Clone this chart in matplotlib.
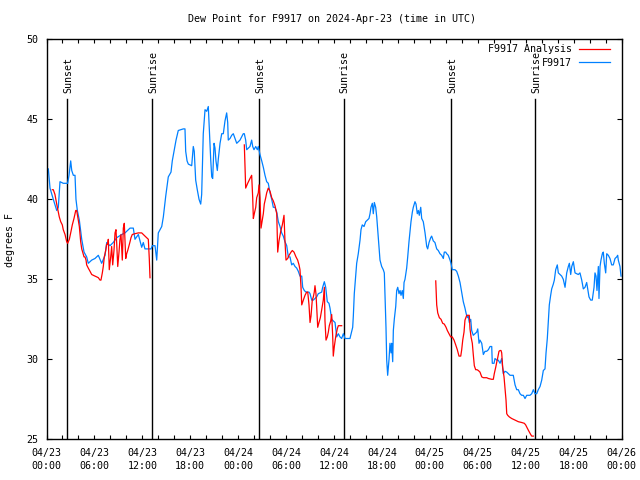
import matplotlib
matplotlib.use("Agg")
import matplotlib.pyplot as plt
from matplotlib.ticker import MultipleLocator, FixedLocator

plt.rcParams['font.family'] = ['DejaVu Sans Mono']

# hours since 2024-04-23 00:00 UTC
blue_h = [0.23, 0.44, 0.85, 1.28, 1.48, 1.69, 2.10, 2.65, 2.82, 3.03, 3.16, 3.36, 3.57, 3.69, 3.86,
          4.11, 4.41, 4.70, 5.03, 5.23, 5.66, 6.07, 6.49, 6.91, 7.33, 7.54, 7.95, 8.36, 8.79, 9.42,
          9.83, 10.46, 10.87, 11.08, 11.50, 11.92, 12.12, 12.33, 13.09, 13.25, 13.59, 13.80, 14.00,
          14.43, 14.63, 14.93, 15.25, 15.59, 15.75, 16.00, 16.22, 16.50, 17.13, 17.34, 17.43, 17.60,
          17.76, 18.18, 18.38, 18.50, 18.68, 18.88, 19.10, 19.31, 19.43, 19.63, 19.85, 20.06, 20.26,
          20.38, 20.56, 20.69, 20.81, 20.98, 21.10, 21.22, 21.39, 21.51, 21.73, 21.94, 22.14, 22.35,
          22.56, 22.69, 22.76, 22.98, 23.19, 23.39, 23.60, 23.82, 24.02, 24.23, 24.44, 24.64, 24.77,
          24.94, 25.07, 25.27, 25.48, 25.69, 25.82, 25.98, 26.20, 26.40, 26.52, 26.73, 26.95, 27.15,
          27.36, 27.57, 27.77, 27.99, 28.20, 28.40, 28.61, 28.83, 29.03, 29.24, 29.45, 29.65, 29.86,
          30.08, 30.28, 30.49, 30.70, 30.90, 31.12, 31.33, 31.53, 31.74, 31.96, 32.08, 32.28, 32.49,
          32.71, 32.87, 33.00, 33.21, 33.41, 33.62, 33.83, 34.03, 34.46, 34.58, 34.79, 34.96, 35.16,
          35.37, 35.50, 35.71, 35.91, 36.13, 36.34, 36.54, 36.75, 36.96, 37.17, 37.38, 38.00, 38.34,
          38.42, 38.54, 38.72, 38.84, 39.04, 39.26, 39.38, 39.54, 39.76, 39.97, 40.17, 40.38, 40.51,
          40.63, 40.80, 40.92, 41.05, 41.22, 41.35, 41.55, 41.76, 41.97, 42.17, 42.30, 42.51, 42.60,
          42.72, 42.89, 43.01, 43.14, 43.22, 43.35, 43.43, 43.55, 43.73, 43.85, 43.98, 44.14, 44.27,
          44.39, 44.55, 44.68, 44.77, 44.89, 45.10, 45.23, 45.39, 45.52, 45.64, 45.81, 45.93, 46.14,
          46.27, 46.43, 46.56, 46.68, 46.86, 46.98, 47.18, 47.40, 47.61, 47.73, 47.90, 48.11, 48.23,
          48.43, 48.64, 48.86, 49.06, 49.27, 49.48, 49.69, 49.81, 49.99, 50.11, 50.31, 50.53, 50.65,
          50.81, 51.15, 51.36, 51.57, 51.78, 51.99, 52.19, 52.40, 52.53, 52.69, 52.82, 52.94, 53.12,
          53.24, 53.44, 53.66, 53.87, 54.00, 54.16, 54.28, 54.50, 54.70, 54.91, 55.12, 55.33, 55.54,
          55.75, 55.82, 56.04, 56.16, 56.37, 56.57, 56.79, 57.00, 57.20, 57.41, 57.63, 57.83, 58.04,
          58.45, 58.67, 58.88, 59.08, 59.29, 59.50, 59.71, 59.92, 60.13, 60.33, 60.54, 60.76, 60.96,
          61.17, 61.38, 61.58, 61.80, 62.01, 62.21, 62.42, 62.55, 62.71, 62.84, 62.96, 63.13, 63.26,
          63.46, 63.59, 63.76, 63.96, 64.09, 64.30, 64.51, 64.71, 64.93, 65.14, 65.34, 65.47, 65.64,
          65.77, 65.97, 66.18, 66.59, 66.80, 67.02, 67.22, 67.43, 67.64, 67.77, 67.93, 68.14, 68.34,
          68.56, 68.68, 68.81, 68.93, 69.10, 69.18, 69.31, 69.43, 69.60, 69.72, 69.85, 70.02, 70.15,
          70.35, 70.56, 70.77, 70.97, 71.19, 71.40, 71.52, 71.60, 71.81, 71.94]
blue_v = [41.9, 40.7, 40.0, 39.3, 39.5, 41.1, 41.0, 41.0, 41.5, 42.4, 41.8, 41.5, 41.5, 40.0, 39.3,
          38.7, 37.5, 36.7, 36.4, 36.0, 36.2, 36.3, 36.5, 36.0, 36.5, 37.3, 37.1, 37.3, 37.6, 37.8,
          37.9, 38.2, 38.2, 37.5, 37.8, 37.0, 37.3, 36.9, 36.9, 37.1, 37.1, 36.2, 37.9,
          38.3, 38.9, 40.2, 41.4, 41.7, 42.4, 43.1, 43.7, 44.3, 44.4, 44.4, 43.0, 42.4,
          42.2, 42.1, 43.3, 43.0, 41.2, 40.6, 40.0, 39.7, 40.3, 44.1, 45.6, 45.5, 45.8,
          44.5, 42.5, 41.4, 41.3, 43.5, 43.2, 42.4, 41.8, 42.5, 43.5, 44.1, 44.1, 44.9,
          45.4, 44.8, 43.7, 43.8, 44.0, 44.1, 43.8, 43.5, 43.6, 43.7, 43.9, 44.1, 44.1,
          43.7, 43.1, 43.2, 43.3, 43.7, 43.3, 43.1, 43.3, 43.1, 43.3, 42.8, 42.4, 42.0,
          41.5, 41.1, 41.0, 40.4, 40.0, 39.5, 39.5, 39.2, 38.6, 38.3, 37.9, 37.7, 37.35,
          37.1, 36.4, 36.4, 35.9, 36.0, 35.8, 35.7, 35.5, 35.2, 35.2, 34.5, 34.3, 34.2,
          34.2, 34.2, 34.1, 33.7, 33.7, 33.8, 33.9, 34.1, 34.2, 34.5, 34.85, 34.5, 33.6,
          33.5, 33.2, 32.5, 32.4, 32.3, 31.4, 31.6, 31.4, 31.3, 31.6, 31.3, 31.3, 32.0,
          32.7, 34.1, 35.2, 36.0, 36.6, 37.45, 38.1, 38.4, 38.3, 38.6, 38.7, 38.8, 39.1,
          39.5, 39.75, 39.1, 39.8, 39.5, 38.9, 37.6, 36.2, 35.8, 35.6, 35.4, 32.0, 29.95,
          29.0, 30.0, 31.0, 30.4, 31.0, 29.85, 31.8, 32.5, 33.3, 34.3, 34.5, 34.1, 34.3,
          34.0, 34.3, 33.8, 34.8, 35.0, 35.7, 36.4, 37.35, 38.0, 38.6, 39.2, 39.5, 39.85,
          39.7, 39.1, 39.3, 39.0, 39.5, 38.8, 38.6, 37.9, 37.05, 36.9, 37.3, 37.6, 37.7,
          37.4, 37.3, 36.9, 36.8, 36.6, 36.5, 36.3, 36.7, 36.7, 36.6, 36.5, 36.2, 36.0,
          35.6, 35.6, 35.5, 35.2, 34.8, 34.2, 33.6, 33.2, 32.9, 32.6, 32.7, 32.3, 32.5,
          31.8, 31.5, 31.6, 31.7, 31.9, 31.0, 31.2, 31.0, 30.3, 30.5, 30.5, 30.6, 30.8,
          30.8, 29.75, 29.75, 30.05, 29.95, 29.95, 29.75, 30.05, 29.1, 29.25, 29.2, 29.1, 29.0,
          29.0, 28.4, 28.1, 28.1, 27.85, 27.75, 27.75, 27.55, 27.75, 27.75, 27.75, 27.85, 28.1,
          27.85, 27.85, 28.1, 28.3, 28.7, 29.3, 29.4, 30.4, 31.3, 32.45, 33.4, 34.0, 34.4,
          34.7, 34.95, 35.6, 35.9, 35.4, 35.3, 35.2, 35.0, 34.5, 35.4, 35.8, 36.0, 35.3,
          35.8, 36.1, 35.4, 35.3, 35.4, 34.95, 34.4, 34.5, 34.8, 34.4, 33.9, 33.7, 33.7,
          34.5, 35.4, 35.2, 34.3, 35.8, 33.8, 35.8, 36.2, 36.6, 36.7, 36.0, 35.4, 36.6,
          36.5, 36.3, 35.9, 35.9, 36.3, 36.4, 36.5, 36.2, 35.8, 35.2]

red1_h = [0.73, 0.85, 1.06, 1.28, 1.48, 1.60, 1.78, 1.98, 2.10, 2.32, 2.53, 2.65, 2.86, 3.07, 3.23,
          3.44, 3.66, 3.78, 3.98, 4.11, 4.28, 4.41, 4.53, 4.70, 4.82, 4.95, 5.03, 5.23, 5.45, 5.66,
          5.86, 6.07, 6.29, 6.49, 6.70, 6.82, 6.99, 7.11, 7.24, 7.41, 7.54, 7.66, 7.74, 7.86, 8.04,
          8.16, 8.29, 8.45, 8.58, 8.70, 8.79, 8.92, 9.08, 9.20, 9.33, 9.49, 9.62, 9.74, 9.92, 10.04,
          10.17, 10.33, 10.46, 10.58, 10.74, 11.08, 11.50, 11.92, 12.33, 12.75, 12.87, 12.96]
red1_v = [40.6, 40.6, 40.3, 39.7, 39.2, 38.9, 38.6, 38.4, 38.1, 37.8, 37.35, 37.25, 37.5, 38.0, 38.4,
          38.8, 39.3, 39.3, 38.7, 38.3, 37.35, 36.9, 36.7, 36.4, 36.4, 36.2, 35.9, 35.7, 35.5, 35.3,
          35.25, 35.2, 35.15, 35.1, 34.95, 34.95, 35.4, 35.8, 36.4, 36.8, 37.2, 37.2, 37.5, 35.6, 36.4,
          37.05, 35.9, 36.8, 37.9, 38.1, 37.25, 35.8, 36.7, 37.5, 37.8, 36.2, 38.2, 38.5, 36.3, 36.6,
          36.8, 37.1, 37.35, 37.6, 37.8, 37.85, 37.9, 37.9, 37.7, 37.5, 36.3, 35.1]

red2_h = [24.77, 24.86, 24.94, 25.19, 25.48, 25.69, 25.82, 25.90, 26.02, 26.20, 26.32, 26.52, 26.61,
          26.73, 26.86, 27.02, 27.15, 27.27, 27.45, 27.57, 27.77, 27.99, 28.20, 28.40, 28.61, 28.83,
          28.95, 29.11, 29.33, 29.53, 29.74, 29.86, 29.99, 30.20, 30.37, 30.62, 30.78, 30.99, 31.24,
          31.45, 31.62, 31.74, 31.87, 31.96, 32.16, 32.37, 32.58, 32.71, 32.87, 33.00, 33.12, 33.28,
          33.41, 33.53, 33.62, 33.74, 33.83, 33.96, 34.12, 34.29, 34.46, 34.66, 34.79, 34.87, 35.00,
          35.16, 35.29, 35.41, 35.59, 35.71, 35.84, 35.91, 36.04, 36.21, 36.41, 36.54, 36.75, 36.96]
red2_v = [43.4, 42.0, 40.7, 41.0, 41.3, 41.5, 40.1, 38.8, 39.1, 39.5, 40.1, 40.4, 40.9,
          40.1, 38.2, 38.7, 39.1, 39.7, 40.1, 40.4, 40.7, 40.5, 40.1, 39.9, 39.6, 39.1,
          36.7, 37.4, 38.0, 38.4, 39.0, 37.4, 36.2, 36.3, 36.5, 36.7, 36.8, 36.7, 36.4,
          36.2, 35.9, 35.6, 34.5, 33.4, 33.7, 34.0, 34.2, 34.2, 33.4, 32.3, 32.7, 33.7,
          33.9, 34.2, 34.6, 34.1, 33.3, 32.0, 32.3, 32.6, 33.1, 33.7, 34.5, 32.4, 31.2,
          31.4, 31.7, 32.1, 32.4, 32.8, 31.4, 30.2, 30.8, 31.4, 31.9, 32.1, 32.1, 32.1]

red3_h = [48.74, 48.86, 48.99, 49.19, 49.40, 49.61, 49.81, 50.03, 50.19, 50.40, 50.61, 50.81, 51.03,
          51.24, 51.44, 51.65, 51.87, 51.99, 52.12, 52.28, 52.40, 52.62, 52.82, 52.94, 53.03, 53.16,
          53.32, 53.44, 53.57, 53.74, 53.91, 54.07, 54.28, 54.50, 54.70, 55.12, 55.33, 55.75, 55.95,
          56.07, 56.25, 56.37, 56.50, 56.66, 56.79, 56.91, 57.00, 57.12, 57.29, 57.41, 57.54, 57.63,
          57.75, 57.95, 58.25, 58.67, 59.08, 59.50, 59.83, 60.00, 60.20, 60.41, 60.63, 60.76, 60.96]
red3_v = [34.9, 33.4, 32.9, 32.6, 32.5, 32.25, 32.2, 32.0, 31.8, 31.6, 31.4, 31.4, 31.2,
          30.9, 30.6, 30.2, 30.2, 30.6, 31.2, 31.7, 32.45, 32.75, 32.75, 32.75, 31.9, 31.4,
          31.0, 30.3, 29.6, 29.35, 29.35, 29.3, 29.2, 28.9, 28.85, 28.85, 28.8, 28.75, 28.75,
          29.1, 29.5, 29.8, 30.1, 30.5, 30.55, 30.55, 30.4, 29.5, 28.9, 28.2, 27.45, 26.6,
          26.5, 26.4, 26.3, 26.2, 26.1, 26.05, 26.0, 25.9, 25.7, 25.5, 25.3, 25.2, 25.2]

sun_h = [2.60, 13.25, 26.65, 37.22, 50.69, 61.21]
sun_labels = ["Sunset", "Sunrise", "Sunset", "Sunrise", "Sunset", "Sunrise"]

xtick_h = [0, 6, 12, 18, 24, 30, 36, 42, 48, 54, 60, 66, 72]
xtick_labels = ["04/23\n00:00", "04/23\n06:00", "04/23\n12:00", "04/23\n18:00",
                "04/24\n00:00", "04/24\n06:00", "04/24\n12:00", "04/24\n18:00",
                "04/25\n00:00", "04/25\n06:00", "04/25\n12:00", "04/25\n18:00",
                "04/26\n00:00"]
ytick_v = [25, 30, 35, 40, 45, 50]

RED = '#ff0000'
BLUE = '#0080ff'
FS = 7.2

fig = plt.figure(figsize=(6.4, 4.8), dpi=100)
ax = fig.add_axes([46.5 / 640, 1 - 439.3 / 480, 575 / 640, 400 / 480])

for h, lab in zip(sun_h, sun_labels):
    ax.plot([h, h], [25, 46.27], color='black', lw=1.0, zorder=1)
    ax.text(h + 0.12, 46.65, lab, rotation=90, ha='center', va='bottom', fontsize=FS)

ax.plot(red1_h, red1_v, color=RED, lw=0.9, zorder=3, label='F9917 Analysis')
ax.plot(red2_h, red2_v, color=RED, lw=0.9, zorder=3)
ax.plot(red3_h, red3_v, color=RED, lw=0.9, zorder=3)
ax.plot(blue_h, blue_v, color=BLUE, lw=0.9, zorder=2, label='F9917')

ax.set_xlim(0, 72)
ax.set_ylim(25, 50)
ax.xaxis.set_major_locator(FixedLocator(xtick_h))
ax.set_xticklabels(xtick_labels)
ax.xaxis.set_minor_locator(MultipleLocator(2))
ax.set_yticks(ytick_v)
ax.set_yticklabels([str(v) for v in ytick_v])
ax.tick_params(axis='both', which='both', direction='in', top=True, right=True,
               labelsize=FS, width=0.8, color='black')
ax.tick_params(axis='x', which='both', length=3.2, pad=6)
ax.tick_params(axis='y', which='major', length=3.6, pad=6)
for lbl in ax.get_xticklabels():
    lbl.set_linespacing(1.45)
for sp in ax.spines.values():
    sp.set_linewidth(1.0)

leg = ax.legend(loc='upper right', bbox_to_anchor=(610 / 640, 1 - 44.5 / 480),
                bbox_transform=fig.transFigure, frameon=False, markerfirst=False,
                fontsize=FS, handlelength=3.1, handletextpad=0.75, borderpad=0,
                borderaxespad=0, labelspacing=0.32)

fig.text(332 / 640, 1 - 19 / 480, "Dew Point for F9917 on 2024-Apr-23 (time in UTC)",
         ha='center', va='center', fontsize=FS)
fig.text(10 / 640, 1 - 240 / 480, "degrees F", rotation=90, ha='center', va='center', fontsize=FS)

fig.savefig("out.png", dpi=100)
